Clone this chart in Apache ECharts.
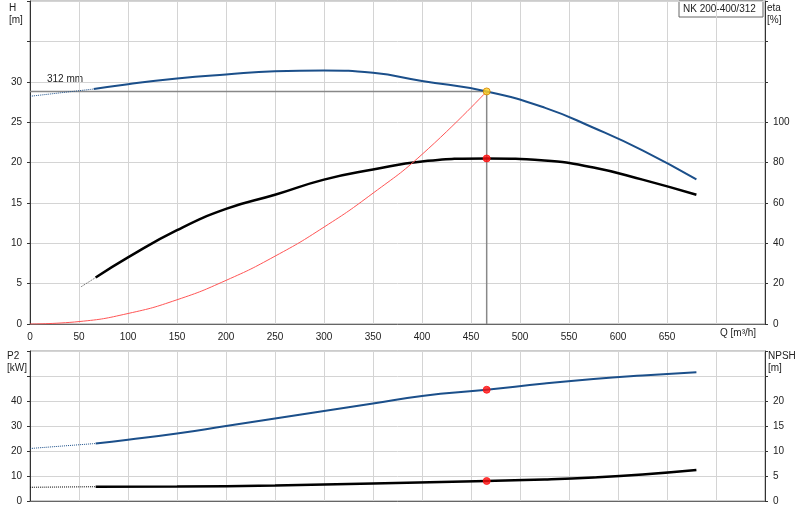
<!DOCTYPE html><html><head><meta charset="utf-8"><script src="https://cdn.jsdelivr.net/npm/echarts@6/dist/echarts.min.js"></script>
<style>body{margin:0}#c{width:800px;height:520px}</style></head><body><div id="c"></div><script>
const qH=[65,100,150,200,250,300,350,400,466,525,575,625,680];
const H=[29.1,29.7,30.4,30.9,31.3,31.4,31.1,30.1,28.8,26.8,24.3,21.5,17.9];
const qHd=[0,65];const Hd=[28.2,29.1];
const qEta=[67,100,150,200,250,300,350,400,466,525,575,625,680];
const eta=[23,33,46.5,57,64,71.5,76.5,80.5,82,81,77.5,71.5,64];
const qEtad=[52,67];const etad=[18.4,23];
const qSys=[0,50,100,150,200,250,300,350,400,466];
const sys=[0,0.3,1.3,3.0,5.4,8.4,12,16.2,21,28.8];
const qP=[67,100,150,200,250,300,350,400,466,525,575,625,680];
const P2=[23,24.5,27,30,33,36,39,42,44.5,47,48.8,50.2,51.5];
const qPd=[0,67];const P2d=[21,23];
const qN=[67,150,250,350,466,525,575,625,680];
const npsh=[2.85,2.9,3.1,3.5,4.0,4.3,4.7,5.3,6.2];
const qNd=[0,67];const npshd=[2.75,2.85];
const opQ=466, opH=28.8, opEta=82, opP2=44.5, opN=4.0;
const pr=(x,y)=>x.map((v,i)=>[v,y[i]]);
const blue='#1b4f8a', ax='#333', gl='#d4d4d4';
const f={fontFamily:'Arial, Liberation Sans',fontSize:10,color:'#222'};
const xa=(gi,show)=>({type:'value',gridIndex:gi,min:0,max:750,interval:50,axisLine:{show:true,onZero:false,lineStyle:{color:'#666'}},axisTick:{show:false},
 axisLabel:{show:show,...f,formatter:v=>v<=650?v:''},splitLine:{show:true,lineStyle:{color:gl}}});
const ya=(gi,max,intv,lim,pos,split)=>({type:'value',gridIndex:gi,position:pos,min:0,max:max,interval:intv,axisLine:{show:true,lineStyle:{color:'#333'}},axisTick:{show:true,inside:false,length:3},
 axisLabel:{...f,formatter:v=>v<=lim?v:''},splitLine:{show:split,lineStyle:{color:gl,width:1}}});
const ln=(xi,yi,d,c,w,t)=>({type:'line',xAxisIndex:xi,yAxisIndex:yi,data:d,showSymbol:false,smooth:true,lineStyle:{color:c,width:w,type:t||'solid'},silent:true,z:3});
const dot=(xi,yi,x,y,c,b)=>({type:'scatter',xAxisIndex:xi,yAxisIndex:yi,data:[[x,y]],symbolSize:7,itemStyle:{color:c,borderColor:b||c,borderWidth:1},z:5});
const chart=echarts.init(document.getElementById('c'));
chart.setOption({animation:false,
grid:[{left:30,right:35,top:1,height:323},{left:30,right:35,top:351,height:150}],
xAxis:[xa(0,true),xa(1,false)],
yAxis:[ya(0,40,5,30,'left',true),ya(0,160,20,100,'right',false),ya(1,60,10,40,'left',true),ya(1,30,5,20,'right',false)],
series:[
 ln(0,0,pr(qH,H),blue,2),ln(0,0,pr(qHd,Hd),blue,1,'dotted'),
 ln(0,1,pr(qEta,eta),'#000',2.5),ln(0,1,pr(qEtad,etad),'#555',1,'dotted'),
 ln(0,0,pr(qSys,sys),'#ff5555',1),
 {type:'line',xAxisIndex:0,yAxisIndex:0,data:[[0,opH],[opQ,opH],[opQ,0]],showSymbol:false,lineStyle:{color:'#888',width:1.5},z:2},
 dot(0,0,opQ,opH,'#ffd21f','#d08000'),dot(0,1,opQ,opEta,'#ff1010'),
 ln(1,2,pr(qP,P2),blue,2),ln(1,2,pr(qPd,P2d),blue,1,'dotted'),
 ln(1,3,pr(qN,npsh),'#000',2.5),ln(1,3,pr(qNd,npshd),'#000',1,'dotted'),
 dot(1,2,opQ,opP2,'#ff1010'),dot(1,3,opQ,opN,'#ff1010')
],
graphic:[
 {type:'rect',shape:{x:30,y:1,width:735,height:323},style:{fill:'none',stroke:'#999'},silent:true},
 {type:'rect',shape:{x:30,y:351,width:735,height:150},style:{fill:'none',stroke:'#999'},silent:true},
 {type:'text',left:9,top:2,style:{text:'H\n[m]',...f,fill:'#222',align:'center',lineHeight:12}},
 {type:'text',left:767,top:2,style:{text:'eta\n[%]',...f,fill:'#222',lineHeight:12}},
 {type:'text',left:7,top:350,style:{text:'P2\n[kW]',...f,fill:'#222',lineHeight:12}},
 {type:'text',left:768,top:350,style:{text:'NPSH\n[m]',...f,fill:'#222',lineHeight:12}},
 {type:'text',left:720,top:328,style:{text:'Q [m³/h]',...f,fill:'#222'}},
 {type:'text',left:47,top:74,style:{text:'312 mm',...f,fill:'#222'}},
 {type:'rect',shape:{x:679,y:1,width:84,height:16},style:{fill:'#fff',stroke:'#666'}},
 {type:'text',left:683,top:4,style:{text:'NK 200-400/312',...f,fill:'#222'}}
]});
</script></body></html>
